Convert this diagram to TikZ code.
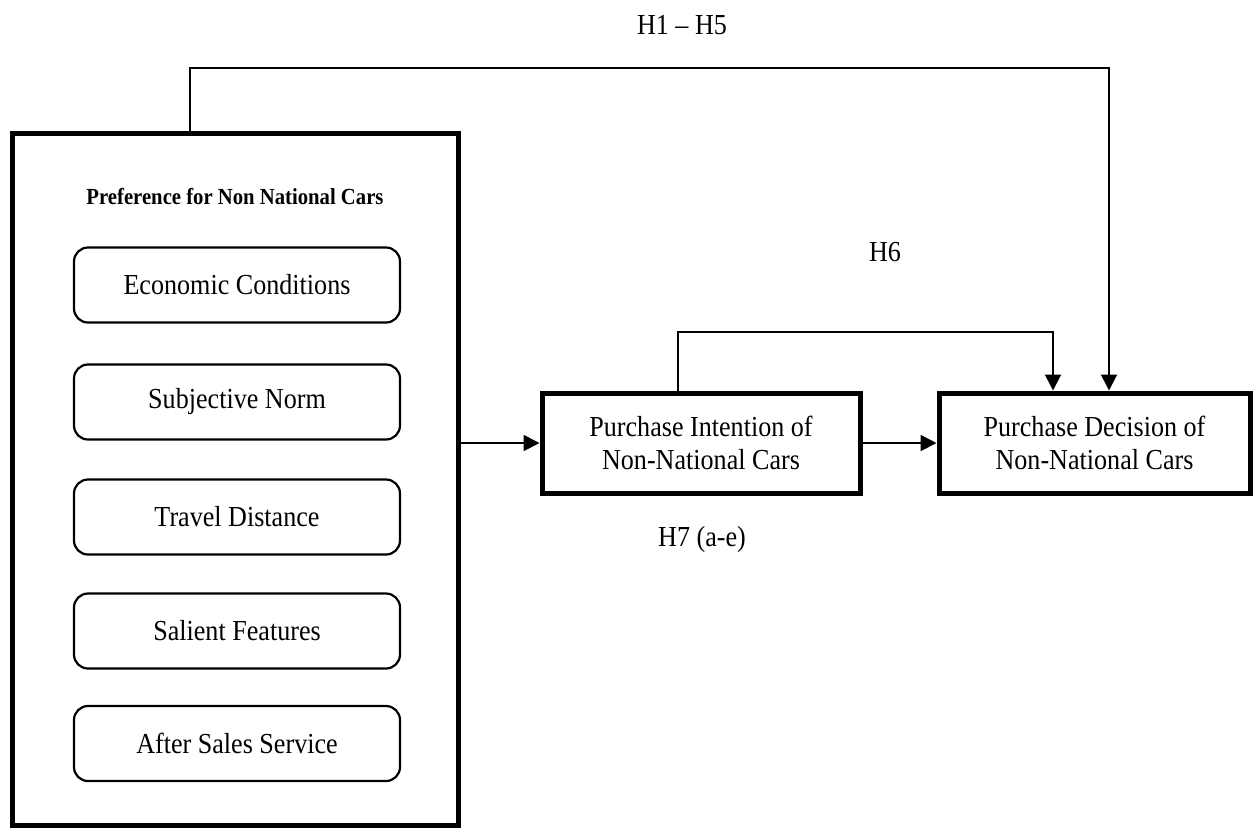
\documentclass[tikz,border=0pt]{standalone}
\usepackage{fontspec}
\setmainfont{Liberation Serif}[FakeStretch=0.9]
\usetikzlibrary{arrows.meta}

\begin{document}
\begin{tikzpicture}[x=0.5pt, y=-0.5pt,
  every node/.style={font=\fontsize{14.5}{16.5}\selectfont},
  bigbox/.style={draw, line width=2.5pt, minimum width=223pt, minimum height=346pt},
  factor/.style={draw, line width=1.1pt, rounded corners=7pt, minimum width=163pt, minimum height=37.5pt},
  outcome/.style={draw, line width=2.5pt, align=center, minimum height=50pt},
  link/.style={line width=0.9pt, -{Triangle[length=8pt, width=8pt]}}]
\useasboundingbox (0,0) rectangle (1256,827);
% left block with its five factors
\node[bigbox] (prefs) at (235,479) {};
\node[font=\fontsize{11.5}{14}\selectfont\bfseries] (ptitle) at (235,197) {Preference for Non National Cars};
\node[factor] (econ) at (237,285) {Economic Conditions};
\node[factor] (norm) at (237,402) {Subjective Norm};
\node[factor] (dist) at (237,517) {Travel Distance};
\node[factor] (feat) at (237,631) {Salient Features};
\node[factor] (serv) at (237,743.5) {After Sales Service};
% outcomes
\node[outcome, minimum width=159pt] (pint) at (701,443) {Purchase Intention of\\Non-National Cars};
\node[outcome, minimum width=155.5pt] (pdec) at (1094.5,443) {Purchase Decision of\\Non-National Cars};
% hypothesis labels
\node (lh15) at (682,25) {H1 -- H5};
\node (lh6) at (885,252) {H6};
\node (lh7) at (702,540) {H7 (a-e)};
\coordinate (h15L) at (190,68);
\coordinate (h15R) at (1109,68);
\coordinate (h6L) at (678,332);
\coordinate (h6R) at (1053,332);
\draw[link] (pint.west -| prefs.east) -- (pint.west);
\draw[link] (pint.east) -- (pdec.west);
\draw[link] (prefs.north -| h15L) -- (h15L) -- (h15R) -- (pdec.north -| h15R);
\draw[link] (pint.north -| h6L) -- (h6L) -- (h6R) -- (pdec.north -| h6R);
\end{tikzpicture}
\end{document}
